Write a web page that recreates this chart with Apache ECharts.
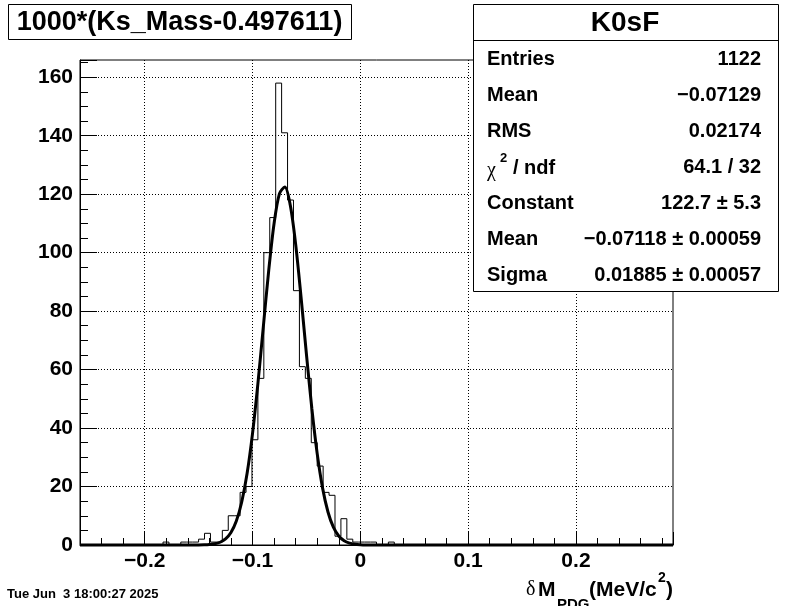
<!DOCTYPE html>
<html>
<head>
<meta charset="utf-8">
<script src="https://cdn.jsdelivr.net/npm/echarts@6/dist/echarts.min.js"></script>
<style>
html,body{margin:0;padding:0;background:#fff;}
#chart{width:794px;height:606px;}
</style>
</head>
<body>
<div id="chart"></div>
<script>
// ---------------- data ----------------
const histTitle = '1000*(Ks_Mass-0.497611)';
const statsName = 'K0sF';
const binStart = -0.26;
const binWidth = 0.0055;
// 100 bins, counts
const counts = [
  0,0,0,0,0,0,0,0,0,0,
  0,0,0,0,1,0,0,1,1,1,
  2,4,1,1,5,10,10,18,20,36,
  57,100,112,158,141,118,87,61,57,35,
  27,18,17,3,9,2,1,1,1,1,
  0,0,1,0,0,0,0,0,0,0,
  0,0,0,0,0,0,0,0,0,0,
  0,0,0,0,0,0,0,0,0,0,
  0,0,0,0,0,0,0,0,0,0,
  0,0,0,0,0,0,0,0,0,0
];
// gaussian fit curve
const fitX = [-0.26,-0.16,-0.15,-0.145,-0.14,-0.135,-0.13,-0.125,-0.12,-0.115,-0.11,-0.105,-0.10,-0.095,-0.09,-0.085,-0.08,-0.075,-0.07,-0.065,-0.06,-0.055,-0.05,-0.045,-0.04,-0.035,-0.03,-0.025,-0.02,-0.015,-0.01,-0.005,0.0,0.005,0.015,0.29];
const fitY = [0,0,0.02,0.06,0.16,0.40,0.94,2.08,4.29,8.23,14.72,24.53,38.12,55.21,74.54,93.78,109.98,120.21,122.46,116.28,102.91,84.88,65.28,46.77,31.24,19.45,11.29,6.10,3.08,1.45,0.63,0.26,0.10,0.03,0,0];
const statsLabels = ['Entries','Mean','RMS','CHI','Constant','Mean','Sigma'];
const statsValues = ['1122','\u22120.07129','0.02174','64.1 / 32','122.7 \u00b1 5.3','\u22120.07118 \u00b1 0.00059','0.01885 \u00b1 0.00057'];
const dateText = 'Tue Jun  3 18:00:27 2025';
const xRange = [-0.26, 0.29];
const yRange = [0, 165.9];

// ---------------- build ----------------
const FONT = '"Liberation Sans", Arial, Helvetica, sans-serif';
const histPts = [];
counts.forEach((c, k) => {
  const x0 = +(binStart + k * binWidth).toFixed(6);
  const x1 = +(binStart + (k + 1) * binWidth).toFixed(6);
  histPts.push([x0, c], [x1, c]);
});
const fitPts = fitX.map((x, i) => [x, fitY[i]]);

function fmtX(v) {
  const r = +(+v).toFixed(3);
  if (r === 0) return '0';
  return (r < 0 ? '\u2212' : '') + Math.abs(r).toFixed(1);
}

const graphics = [];
// title box
graphics.push({type:'rect', shape:{x:8.5,y:4.5,width:343,height:35}, style:{fill:'#fff',stroke:'#000',lineWidth:1}, z:10});
graphics.push({type:'text', x:179.5, y:23, style:{text:histTitle, font:'bold 27px ' + FONT, fill:'#000', align:'center', verticalAlign:'middle', textAlign:'center', textVerticalAlign:'middle'}, z:11});
// stats box
graphics.push({type:'rect', shape:{x:473.5,y:4.5,width:305,height:287}, style:{fill:'#fff',stroke:'#000',lineWidth:1}, z:10});
graphics.push({type:'line', shape:{x1:473.5,y1:40.5,x2:778.5,y2:40.5}, style:{stroke:'#000',lineWidth:1}, z:11});
graphics.push({type:'text', x:625, y:23, style:{text:statsName, font:'bold 28px ' + FONT, fill:'#000', align:'center', verticalAlign:'middle', textAlign:'center', textVerticalAlign:'middle'}, z:11});
statsLabels.forEach((lab, i) => {
  const y = 59 + 36 * i;
  if (lab === 'CHI') {
    graphics.push({type:'text', x:487, y:y + 4, style:{text:'\u03c7', font:'20px "Liberation Serif", serif', fill:'#000', align:'left', verticalAlign:'middle', textAlign:'left', textVerticalAlign:'middle'}, z:11});
    graphics.push({type:'text', x:500, y:y - 9, style:{text:'2', font:'bold 13px ' + FONT, fill:'#000', align:'left', verticalAlign:'middle', textAlign:'left', textVerticalAlign:'middle'}, z:11});
    graphics.push({type:'text', x:513, y:y + 1, style:{text:'/ ndf', font:'bold 20px ' + FONT, fill:'#000', align:'left', verticalAlign:'middle', textAlign:'left', textVerticalAlign:'middle'}, z:11});
  } else {
    graphics.push({type:'text', x:487, y:y, style:{text:lab, font:'bold 20px ' + FONT, fill:'#000', align:'left', verticalAlign:'middle', textAlign:'left', textVerticalAlign:'middle'}, z:11});
  }
  graphics.push({type:'text', x:761, y:y, style:{text:statsValues[i], font:'bold 20px ' + FONT, fill:'#000', align:'right', verticalAlign:'middle', textAlign:'right', textVerticalAlign:'middle'}, z:11});
});
// date
graphics.push({type:'text', x:7, y:594, style:{text:dateText, font:'bold 13px ' + FONT, fill:'#000', align:'left', verticalAlign:'middle', textAlign:'left', textVerticalAlign:'middle'}, z:11});
// x axis title: deltaM_PDG (MeV/c^2)
const tY = 590;
graphics.push({type:'text', x:526, y:tY, style:{text:'\u03b4', font:'20px "Liberation Serif", serif', fill:'#000', align:'left', verticalAlign:'middle', textAlign:'left', textVerticalAlign:'middle'}, z:11});
graphics.push({type:'text', x:538, y:tY, style:{text:'M', font:'bold 21px ' + FONT, fill:'#000', align:'left', verticalAlign:'middle', textAlign:'left', textVerticalAlign:'middle'}, z:11});
graphics.push({type:'text', x:557, y:tY + 15, style:{text:'PDG', font:'bold 15px ' + FONT, fill:'#000', align:'left', verticalAlign:'middle', textAlign:'left', textVerticalAlign:'middle'}, z:11});
graphics.push({type:'text', x:589, y:tY, style:{text:'(MeV/c', font:'bold 21px ' + FONT, fill:'#000', align:'left', verticalAlign:'middle', textAlign:'left', textVerticalAlign:'middle'}, z:11});
graphics.push({type:'text', x:658, y:tY - 12, style:{text:'2', font:'bold 14px ' + FONT, fill:'#000', align:'left', verticalAlign:'middle', textAlign:'left', textVerticalAlign:'middle'}, z:11});
graphics.push({type:'text', x:666, y:tY, style:{text:')', font:'bold 21px ' + FONT, fill:'#000', align:'left', verticalAlign:'middle', textAlign:'left', textVerticalAlign:'middle'}, z:11});

const dotted = {color:'#000', width:1, type:[1,2]};
const chart = echarts.init(document.getElementById('chart'));
chart.setOption({
  animation: false,
  backgroundColor: '#fff',
  grid: {left:80, top:60, width:593, height:485, show:true, borderColor:'#000', borderWidth:1, backgroundColor:'transparent', containLabel:false},
  xAxis: {
    type:'value', min:xRange[0], max:xRange[1], minInterval:0.1, maxInterval:0.1,
    axisLine:{show:true, onZero:false, lineStyle:{color:'#000', width:1}},
    axisTick:{show:true, inside:true, length:13, lineStyle:{color:'#000', width:1}},
    minorTick:{show:true, splitNumber:5, length:7, lineStyle:{color:'#000', width:1}},
    axisLabel:{show:true, showMinLabel:false, showMaxLabel:false, formatter:fmtX, color:'#000', fontSize:21, fontWeight:'bold', fontFamily:FONT, margin:6},
    splitLine:{show:true, showMinLine:false, showMaxLine:false, lineStyle:dotted},
    minorSplitLine:{show:false}
  },
  yAxis: {
    type:'value', min:yRange[0], max:yRange[1], interval:20,
    axisLine:{show:true, onZero:false, lineStyle:{color:'#000', width:1}},
    axisTick:{show:true, inside:true, length:17, lineStyle:{color:'#000', width:1}},
    minorTick:{show:true, splitNumber:4, length:8, lineStyle:{color:'#000', width:1}},
    axisLabel:{show:true, showMaxLabel:false, color:'#000', fontSize:21, fontWeight:'bold', fontFamily:FONT, margin:7},
    splitLine:{show:true, showMinLine:false, showMaxLine:false, lineStyle:dotted},
    minorSplitLine:{show:false}
  },
  series: [
    {type:'line', data:histPts, symbol:'none', showSymbol:false, lineStyle:{color:'#000', width:1}, itemStyle:{color:'#000'}, clip:false, z:3, silent:true},
    {type:'line', data:fitPts, symbol:'none', showSymbol:false, smooth:0.3, lineStyle:{color:'#000', width:3}, itemStyle:{color:'#000'}, clip:false, z:4, silent:true}
  ],
  graphic: graphics
});
</script>
</body>
</html>
